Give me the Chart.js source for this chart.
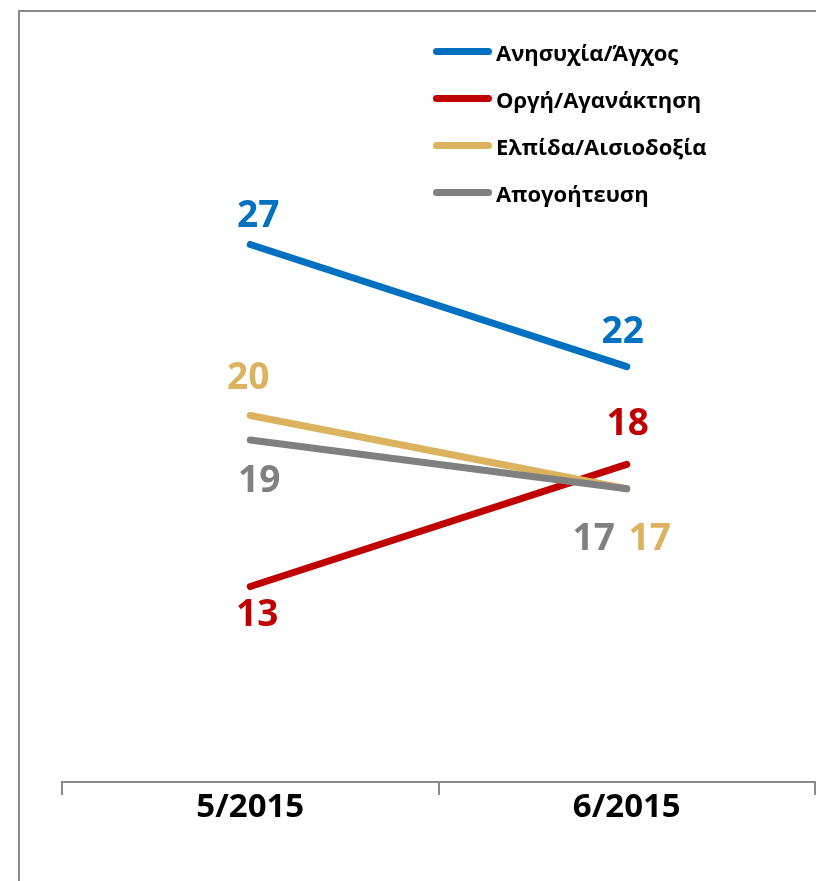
<!DOCTYPE html>
<html>
<head>
<meta charset="utf-8">
<title>Συναισθήματα 5/2015 - 6/2015</title>
<script src="https://cdn.jsdelivr.net/npm/chart.js@4.4.1/dist/chart.umd.min.js"></script>
<style>
    html, body { margin: 0; padding: 0; background: #fff; }
    #wrap { position: relative; width: 816px; height: 881px; overflow: hidden; }
    #frame { position: absolute; left: 18px; top: 10px; width: 900px; height: 900px;
             border-left: 2px solid #8a8a8a; border-top: 2px solid #8a8a8a; }
    #myChart { position: absolute; left: 0; top: 0; }
    #legend { position: absolute; left: 433px; top: 28px; font-family: 'Open Sans', sans-serif;
              font-weight: bold; font-size: 22px; color: #000; }
    .legend-item { display: flex; align-items: center; height: 47px; }
    .legend-line { width: 59px; height: 7px; border-radius: 4px; margin-right: 4px; }
</style>
</head>
<body>
<div id="wrap">
    <div id="frame"></div>
    <canvas id="myChart" width="816" height="881"></canvas>
    <div id="legend"></div>
</div>
<script>
// data
const categories = ['5/2015', '6/2015'];
const seriesNames = ['Ανησυχία/Άγχος', 'Οργή/Αγανάκτηση', 'Ελπίδα/Αισιοδοξία', 'Απογοήτευση'];
const anxietyValues = [27, 22];
const angerValues = [13, 18];
const hopeValues = [20, 17];
const disappointmentValues = [19, 17];

const seriesColors = ['#0070c0', '#c00000', '#dbb35e', '#808080'];

// where each value label sits relative to its point (dx, dy of the glyph centre)
const labelOffsets = [
    [[8, -31], [-4, -37]],
    [[7, 26], [1, -43]],
    [[-2, -40], [23, 48]],
    [[9, 39], [-33, 48]],
];

const valueLabels = {
    id: 'valueLabels',
    afterDatasetsDraw(chart, args, opts) {
        let ctx = chart.ctx;
        ctx.save();
        ctx.font = 'bold ' + opts.size + 'px "Open Sans"';
        ctx.textAlign = 'center';
        ctx.textBaseline = 'alphabetic';
        chart.data.datasets.forEach((ds, i) => {
            let meta = chart.getDatasetMeta(i);
            meta.data.forEach((pt, j) => {
                let off = opts.offsets[i][j];
                ctx.fillStyle = ds.borderColor;
                ctx.fillText(ds.data[j], pt.x + off[0], pt.y + off[1] + opts.size * 0.36);
            });
        });
        ctx.restore();
    }
};

const allValues = [anxietyValues, angerValues, hopeValues, disappointmentValues];
let datasets = [];
for (let i = 0; i < seriesNames.length; i++) {
    datasets.push({
        label: seriesNames[i],
        data: allValues[i],
        borderColor: seriesColors[i],
        backgroundColor: seriesColors[i],
        borderWidth: 7,
        borderCapStyle: 'round',
        pointRadius: 0,
        pointHoverRadius: 0,
        tension: 0,
        order: seriesNames.length - 1 - i, // later series painted on top
    });
}

let ctx = document.getElementById('myChart');
let lineChart = new Chart(ctx, {
    type: 'line',
    data: {
        labels: categories,
        datasets: datasets
    },
    plugins: [valueLabels],
    options: {
        responsive: false,
        animation: false,
        layout: {
            padding: { top: 49, left: 62, right: 1, bottom: 61 }
        },
        plugins: {
            legend: { display: false },
            tooltip: { enabled: false },
            valueLabels: { size: 37, offsets: labelOffsets }
        },
        scales: {
            x: {
                offset: true,
                grid: {
                    offset: true,
                    drawOnChartArea: false,
                    tickLength: 13,
                    color: '#8a8a8a',
                    lineWidth: 2
                },
                border: { display: true, color: '#8a8a8a', width: 2 },
                ticks: {
                    padding: -4,
                    color: '#000',
                    font: { family: 'Open Sans', size: 33, weight: 'bold', lineHeight: 1 }
                }
            },
            y: {
                display: false,
                min: 5,
                max: 35
            }
        }
    }
});

// html legend, one row per series
let legendBox = document.getElementById('legend');
lineChart.data.datasets.forEach((ds) => {
    let row = document.createElement('div');
    row.className = 'legend-item';
    let swatch = document.createElement('span');
    swatch.className = 'legend-line';
    swatch.style.background = ds.borderColor;
    let text = document.createElement('span');
    text.textContent = ds.label;
    row.appendChild(swatch);
    row.appendChild(text);
    legendBox.appendChild(row);
});
</script>
</body>
</html>
